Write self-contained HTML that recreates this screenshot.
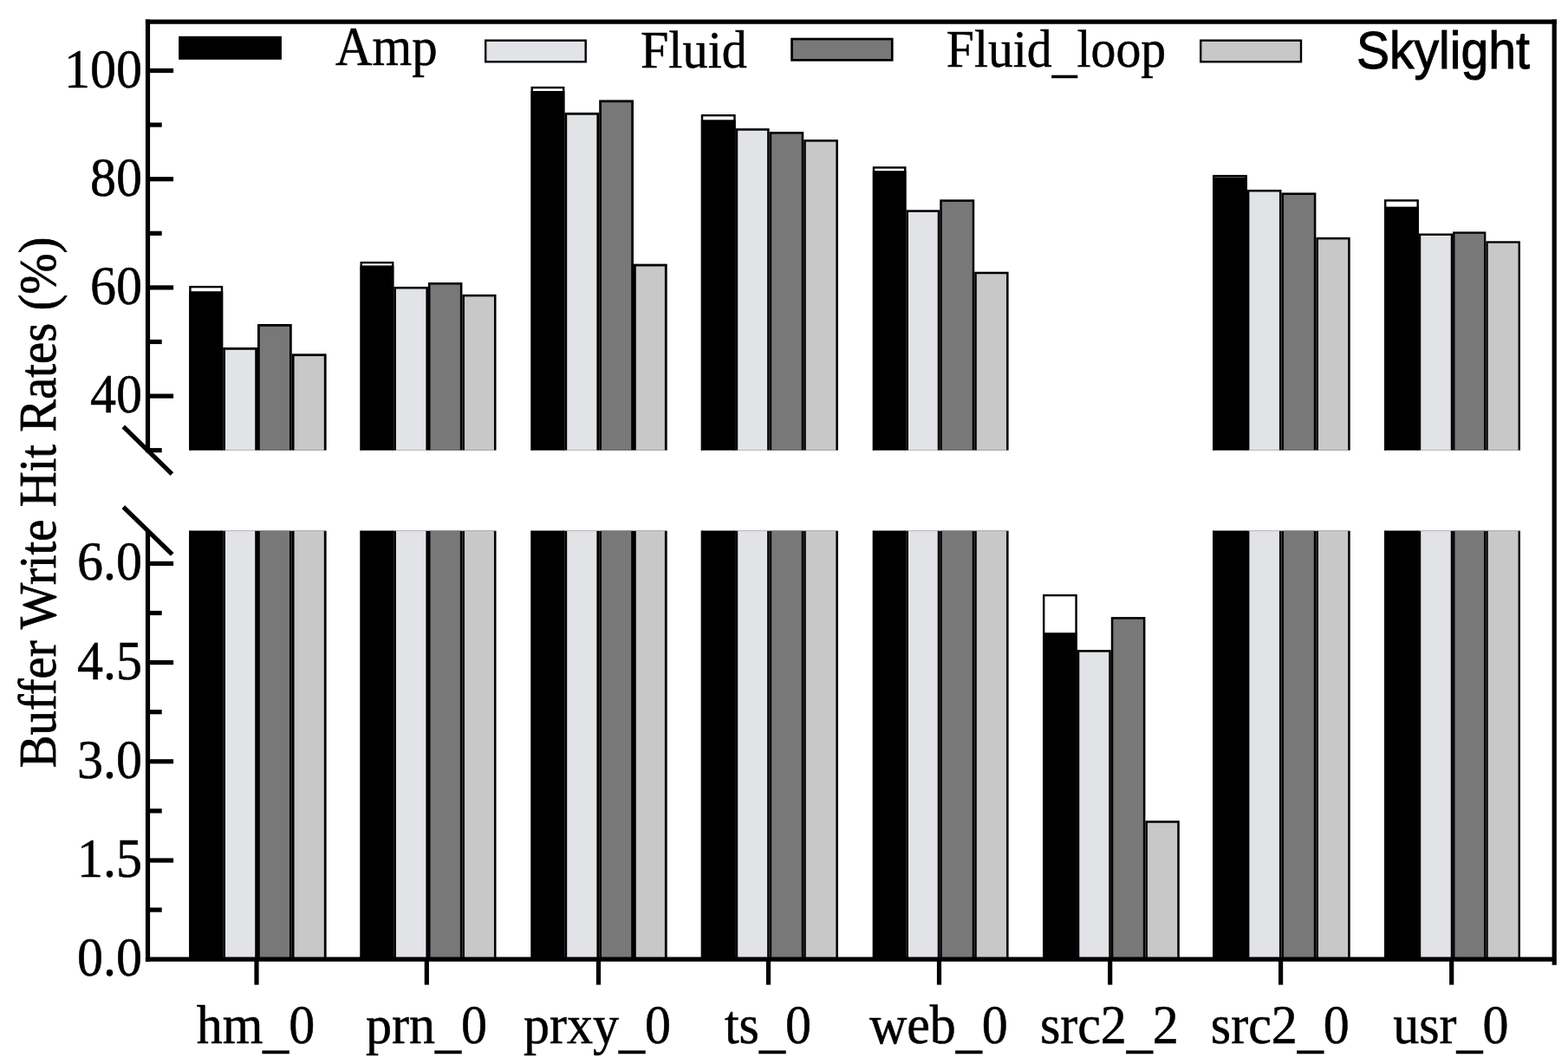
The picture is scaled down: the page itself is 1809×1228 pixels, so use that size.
<!DOCTYPE html>
<html><head><meta charset="utf-8"><title>Buffer Write Hit Rates</title>
<style>html,body{margin:0;padding:0;background:#fff;overflow:hidden;}svg{display:block;}</style></head>
<body>
<svg width="1809" height="1228" viewBox="0 0 1809 1228">
<rect width="1809" height="1228" fill="#fff"/>
<g>
<rect x="218.20" y="329.90" width="39.02" height="189.80" fill="#000"/>
<rect x="220.60" y="332.30" width="34.22" height="187.40" fill="#fff"/>
<rect x="218.20" y="612.60" width="39.02" height="494.60" fill="#000"/>
<rect x="220.60" y="612.60" width="34.22" height="494.60" fill="#fff"/>
<rect x="218.20" y="336.20" width="39.02" height="183.50" fill="#000"/>
<rect x="218.20" y="612.60" width="39.02" height="494.60" fill="#000"/>
<rect x="257.22" y="401.00" width="39.78" height="118.70" fill="#000"/>
<rect x="260.00" y="403.78" width="34.22" height="115.92" fill="#e2e3e7"/>
<rect x="257.22" y="612.60" width="39.78" height="494.60" fill="#000"/>
<rect x="260.00" y="612.60" width="34.22" height="494.60" fill="#e2e3e7"/>
<rect x="297.00" y="374.00" width="39.75" height="145.70" fill="#000"/>
<rect x="299.78" y="376.78" width="34.18" height="142.92" fill="#787878"/>
<rect x="297.00" y="612.60" width="39.75" height="494.60" fill="#000"/>
<rect x="299.78" y="612.60" width="34.18" height="494.60" fill="#787878"/>
<rect x="336.75" y="408.30" width="39.85" height="111.40" fill="#000"/>
<rect x="339.53" y="411.08" width="34.28" height="108.62" fill="#c8c8c8"/>
<rect x="336.75" y="612.60" width="39.85" height="494.60" fill="#000"/>
<rect x="339.53" y="612.60" width="34.28" height="494.60" fill="#c8c8c8"/>
<rect x="415.50" y="301.90" width="38.85" height="217.80" fill="#000"/>
<rect x="417.90" y="304.30" width="34.05" height="215.40" fill="#fff"/>
<rect x="415.50" y="612.60" width="38.85" height="494.60" fill="#000"/>
<rect x="417.90" y="612.60" width="34.05" height="494.60" fill="#fff"/>
<rect x="415.50" y="306.40" width="38.85" height="213.30" fill="#000"/>
<rect x="415.50" y="612.60" width="38.85" height="494.60" fill="#000"/>
<rect x="454.35" y="330.90" width="39.60" height="188.80" fill="#000"/>
<rect x="456.90" y="333.45" width="34.50" height="186.25" fill="#e2e3e7"/>
<rect x="454.35" y="612.60" width="39.60" height="494.60" fill="#000"/>
<rect x="456.90" y="612.60" width="34.50" height="494.60" fill="#e2e3e7"/>
<rect x="493.95" y="326.00" width="39.45" height="193.70" fill="#000"/>
<rect x="496.50" y="328.55" width="34.35" height="191.15" fill="#787878"/>
<rect x="493.95" y="612.60" width="39.45" height="494.60" fill="#000"/>
<rect x="496.50" y="612.60" width="34.35" height="494.60" fill="#787878"/>
<rect x="533.40" y="339.80" width="39.10" height="179.90" fill="#000"/>
<rect x="535.95" y="342.35" width="34.00" height="177.35" fill="#c8c8c8"/>
<rect x="533.40" y="612.60" width="39.10" height="494.60" fill="#000"/>
<rect x="535.95" y="612.60" width="34.00" height="494.60" fill="#c8c8c8"/>
<rect x="612.50" y="99.90" width="38.90" height="419.80" fill="#000"/>
<rect x="614.90" y="102.30" width="34.10" height="417.40" fill="#fff"/>
<rect x="612.50" y="612.60" width="38.90" height="494.60" fill="#000"/>
<rect x="614.90" y="612.60" width="34.10" height="494.60" fill="#fff"/>
<rect x="612.50" y="105.00" width="38.90" height="414.70" fill="#000"/>
<rect x="612.50" y="612.60" width="38.90" height="494.60" fill="#000"/>
<rect x="651.40" y="129.90" width="39.80" height="389.80" fill="#000"/>
<rect x="654.20" y="132.70" width="34.20" height="387.00" fill="#e2e3e7"/>
<rect x="651.40" y="612.60" width="39.80" height="494.60" fill="#000"/>
<rect x="654.20" y="612.60" width="34.20" height="494.60" fill="#e2e3e7"/>
<rect x="691.20" y="115.40" width="39.80" height="404.30" fill="#000"/>
<rect x="694.00" y="118.20" width="34.20" height="401.50" fill="#787878"/>
<rect x="691.20" y="612.60" width="39.80" height="494.60" fill="#000"/>
<rect x="694.00" y="612.60" width="34.20" height="494.60" fill="#787878"/>
<rect x="731.00" y="304.60" width="38.70" height="215.10" fill="#000"/>
<rect x="733.80" y="307.40" width="33.10" height="212.30" fill="#c8c8c8"/>
<rect x="731.00" y="612.60" width="38.70" height="494.60" fill="#000"/>
<rect x="733.80" y="612.60" width="33.10" height="494.60" fill="#c8c8c8"/>
<rect x="808.80" y="132.00" width="39.87" height="387.70" fill="#000"/>
<rect x="811.20" y="134.40" width="35.07" height="385.30" fill="#fff"/>
<rect x="808.80" y="612.60" width="39.87" height="494.60" fill="#000"/>
<rect x="811.20" y="612.60" width="35.07" height="494.60" fill="#fff"/>
<rect x="808.80" y="138.30" width="39.87" height="381.40" fill="#000"/>
<rect x="808.80" y="612.60" width="39.87" height="494.60" fill="#000"/>
<rect x="848.67" y="148.20" width="38.98" height="371.50" fill="#000"/>
<rect x="851.20" y="150.73" width="33.92" height="368.97" fill="#e2e3e7"/>
<rect x="848.67" y="612.60" width="38.98" height="494.60" fill="#000"/>
<rect x="851.20" y="612.60" width="33.92" height="494.60" fill="#e2e3e7"/>
<rect x="887.65" y="152.10" width="39.60" height="367.60" fill="#000"/>
<rect x="890.18" y="154.63" width="34.53" height="365.07" fill="#787878"/>
<rect x="887.65" y="612.60" width="39.60" height="494.60" fill="#000"/>
<rect x="890.18" y="612.60" width="34.53" height="494.60" fill="#787878"/>
<rect x="927.25" y="161.10" width="39.65" height="358.60" fill="#000"/>
<rect x="929.78" y="163.63" width="34.58" height="356.07" fill="#c8c8c8"/>
<rect x="927.25" y="612.60" width="39.65" height="494.60" fill="#000"/>
<rect x="929.78" y="612.60" width="34.58" height="494.60" fill="#c8c8c8"/>
<rect x="1006.80" y="192.20" width="38.67" height="327.50" fill="#000"/>
<rect x="1009.20" y="194.60" width="33.87" height="325.10" fill="#fff"/>
<rect x="1006.80" y="612.60" width="38.67" height="494.60" fill="#000"/>
<rect x="1009.20" y="612.60" width="33.87" height="494.60" fill="#fff"/>
<rect x="1006.80" y="197.10" width="38.67" height="322.60" fill="#000"/>
<rect x="1006.80" y="612.60" width="38.67" height="494.60" fill="#000"/>
<rect x="1045.47" y="242.30" width="38.78" height="277.40" fill="#000"/>
<rect x="1048.00" y="244.83" width="33.72" height="274.87" fill="#e2e3e7"/>
<rect x="1045.47" y="612.60" width="38.78" height="494.60" fill="#000"/>
<rect x="1048.00" y="612.60" width="33.72" height="494.60" fill="#e2e3e7"/>
<rect x="1084.25" y="230.30" width="40.00" height="289.40" fill="#000"/>
<rect x="1086.78" y="232.83" width="34.93" height="286.87" fill="#787878"/>
<rect x="1084.25" y="612.60" width="40.00" height="494.60" fill="#000"/>
<rect x="1086.78" y="612.60" width="34.93" height="494.60" fill="#787878"/>
<rect x="1124.25" y="313.70" width="39.35" height="206.00" fill="#000"/>
<rect x="1126.78" y="316.23" width="34.28" height="203.47" fill="#c8c8c8"/>
<rect x="1124.25" y="612.60" width="39.35" height="494.60" fill="#000"/>
<rect x="1126.78" y="612.60" width="34.28" height="494.60" fill="#c8c8c8"/>
<rect x="1203.00" y="685.90" width="39.77" height="421.30" fill="#000"/>
<rect x="1205.40" y="688.30" width="34.97" height="418.90" fill="#fff"/>
<rect x="1203.00" y="730.20" width="39.77" height="377.00" fill="#000"/>
<rect x="1242.77" y="750.10" width="39.03" height="357.10" fill="#000"/>
<rect x="1245.30" y="752.63" width="33.97" height="354.57" fill="#e2e3e7"/>
<rect x="1281.80" y="712.10" width="39.60" height="395.10" fill="#000"/>
<rect x="1284.33" y="714.63" width="34.53" height="392.57" fill="#787878"/>
<rect x="1321.40" y="947.20" width="39.40" height="160.00" fill="#000"/>
<rect x="1323.93" y="949.73" width="34.33" height="157.47" fill="#c8c8c8"/>
<rect x="1399.00" y="201.90" width="39.87" height="317.80" fill="#000"/>
<rect x="1401.40" y="204.30" width="35.07" height="315.40" fill="#fff"/>
<rect x="1399.00" y="612.60" width="39.87" height="494.60" fill="#000"/>
<rect x="1401.40" y="612.60" width="35.07" height="494.60" fill="#fff"/>
<rect x="1399.00" y="204.50" width="39.87" height="315.20" fill="#000"/>
<rect x="1399.00" y="612.60" width="39.87" height="494.60" fill="#000"/>
<rect x="1438.87" y="218.90" width="39.58" height="300.80" fill="#000"/>
<rect x="1441.40" y="221.43" width="34.52" height="298.27" fill="#e2e3e7"/>
<rect x="1438.87" y="612.60" width="39.58" height="494.60" fill="#000"/>
<rect x="1441.40" y="612.60" width="34.52" height="494.60" fill="#e2e3e7"/>
<rect x="1478.45" y="222.40" width="39.90" height="297.30" fill="#000"/>
<rect x="1480.98" y="224.93" width="34.83" height="294.77" fill="#787878"/>
<rect x="1478.45" y="612.60" width="39.90" height="494.60" fill="#000"/>
<rect x="1480.98" y="612.60" width="34.83" height="494.60" fill="#787878"/>
<rect x="1518.35" y="273.90" width="39.35" height="245.80" fill="#000"/>
<rect x="1520.88" y="276.43" width="34.28" height="243.27" fill="#c8c8c8"/>
<rect x="1518.35" y="612.60" width="39.35" height="494.60" fill="#000"/>
<rect x="1520.88" y="612.60" width="34.28" height="494.60" fill="#c8c8c8"/>
<rect x="1597.00" y="230.20" width="39.85" height="289.50" fill="#000"/>
<rect x="1599.40" y="232.60" width="35.05" height="287.10" fill="#fff"/>
<rect x="1597.00" y="612.60" width="39.85" height="494.60" fill="#000"/>
<rect x="1599.40" y="612.60" width="35.05" height="494.60" fill="#fff"/>
<rect x="1597.00" y="238.60" width="39.85" height="281.10" fill="#000"/>
<rect x="1597.00" y="612.60" width="39.85" height="494.60" fill="#000"/>
<rect x="1636.85" y="269.50" width="39.25" height="250.20" fill="#000"/>
<rect x="1639.20" y="271.85" width="34.55" height="247.85" fill="#e2e3e7"/>
<rect x="1636.85" y="612.60" width="39.25" height="494.60" fill="#000"/>
<rect x="1639.20" y="612.60" width="34.55" height="494.60" fill="#e2e3e7"/>
<rect x="1676.10" y="267.40" width="38.25" height="252.30" fill="#000"/>
<rect x="1678.45" y="269.75" width="33.55" height="249.95" fill="#787878"/>
<rect x="1676.10" y="612.60" width="38.25" height="494.60" fill="#000"/>
<rect x="1678.45" y="612.60" width="33.55" height="494.60" fill="#787878"/>
<rect x="1714.35" y="278.30" width="39.55" height="241.40" fill="#000"/>
<rect x="1716.70" y="280.65" width="34.85" height="239.05" fill="#c8c8c8"/>
<rect x="1714.35" y="612.60" width="39.55" height="494.60" fill="#000"/>
<rect x="1716.70" y="612.60" width="34.85" height="494.60" fill="#c8c8c8"/>
</g>
<g>
<line x1="167.90" y1="25.10" x2="1795.80" y2="25.10" stroke="#000" stroke-width="5.2"/>
<line x1="1793.20" y1="22.50" x2="1793.20" y2="1113.80" stroke="#000" stroke-width="5.2"/>
<line x1="167.90" y1="1107.20" x2="1793.20" y2="1107.20" stroke="#000" stroke-width="5.2"/>
<line x1="170.50" y1="22.50" x2="170.50" y2="522.30" stroke="#000" stroke-width="5.2"/>
<line x1="170.50" y1="613.00" x2="170.50" y2="1109.80" stroke="#000" stroke-width="5.2"/>
<line x1="170.50" y1="81.50" x2="200.10" y2="81.50" stroke="#000" stroke-width="5.2"/>
<line x1="170.50" y1="206.70" x2="200.10" y2="206.70" stroke="#000" stroke-width="5.2"/>
<line x1="170.50" y1="331.90" x2="200.10" y2="331.90" stroke="#000" stroke-width="5.2"/>
<line x1="170.50" y1="457.10" x2="200.10" y2="457.10" stroke="#000" stroke-width="5.2"/>
<line x1="170.50" y1="144.10" x2="186.70" y2="144.10" stroke="#000" stroke-width="5.2"/>
<line x1="170.50" y1="269.30" x2="186.70" y2="269.30" stroke="#000" stroke-width="5.2"/>
<line x1="170.50" y1="394.50" x2="186.70" y2="394.50" stroke="#000" stroke-width="5.2"/>
<line x1="170.50" y1="519.70" x2="186.70" y2="519.70" stroke="#000" stroke-width="5.2"/>
<line x1="170.50" y1="650.42" x2="200.10" y2="650.42" stroke="#000" stroke-width="5.2"/>
<line x1="170.50" y1="764.62" x2="200.10" y2="764.62" stroke="#000" stroke-width="5.2"/>
<line x1="170.50" y1="878.81" x2="200.10" y2="878.81" stroke="#000" stroke-width="5.2"/>
<line x1="170.50" y1="993.01" x2="200.10" y2="993.01" stroke="#000" stroke-width="5.2"/>
<line x1="170.50" y1="707.52" x2="186.70" y2="707.52" stroke="#000" stroke-width="5.2"/>
<line x1="170.50" y1="821.71" x2="186.70" y2="821.71" stroke="#000" stroke-width="5.2"/>
<line x1="170.50" y1="935.91" x2="186.70" y2="935.91" stroke="#000" stroke-width="5.2"/>
<line x1="170.50" y1="1050.10" x2="186.70" y2="1050.10" stroke="#000" stroke-width="5.2"/>
<line x1="142.30" y1="492.40" x2="198.40" y2="547.20" stroke="#000" stroke-width="5.2"/>
<line x1="142.30" y1="585.20" x2="198.70" y2="639.80" stroke="#000" stroke-width="5.2"/>
<line x1="296.00" y1="1107.20" x2="296.00" y2="1136.60" stroke="#000" stroke-width="5.2"/>
<line x1="492.30" y1="1107.20" x2="492.30" y2="1136.60" stroke="#000" stroke-width="5.2"/>
<line x1="690.50" y1="1107.20" x2="690.50" y2="1136.60" stroke="#000" stroke-width="5.2"/>
<line x1="886.50" y1="1107.20" x2="886.50" y2="1136.60" stroke="#000" stroke-width="5.2"/>
<line x1="1083.50" y1="1107.20" x2="1083.50" y2="1136.60" stroke="#000" stroke-width="5.2"/>
<line x1="1280.70" y1="1107.20" x2="1280.70" y2="1136.60" stroke="#000" stroke-width="5.2"/>
<line x1="1477.60" y1="1107.20" x2="1477.60" y2="1136.60" stroke="#000" stroke-width="5.2"/>
<line x1="1674.70" y1="1107.20" x2="1674.70" y2="1136.60" stroke="#000" stroke-width="5.2"/>
</g>
<g>
<rect x="206.1" y="41.8" width="118.8" height="27.0" fill="#000"/>
<rect x="559.00" y="45.50" width="117.90" height="27.00" fill="#000"/>
<rect x="561.40" y="47.90" width="113.10" height="22.20" fill="#e2e3e7"/>
<rect x="912.20" y="43.70" width="118.40" height="27.00" fill="#000"/>
<rect x="914.90" y="46.40" width="113.00" height="21.60" fill="#787878"/>
<rect x="1384.00" y="45.50" width="118.20" height="27.00" fill="#000"/>
<rect x="1386.40" y="47.90" width="113.40" height="22.20" fill="#c8c8c8"/>
</g>
<g fill="#000" stroke="#000" stroke-width="0.5">
<text transform="translate(387.12,74.90) scale(0.979,1.04)" text-anchor="start" style="font-family:'Liberation Serif','Times New Roman',serif;font-size:60px" >Amp</text>
<text transform="translate(739.00,78.00) scale(0.97,1.035)" text-anchor="start" style="font-family:'Liberation Serif','Times New Roman',serif;font-size:60px" >Fluid</text>
<text transform="translate(1091.80,76.90) scale(0.962,1.035)" text-anchor="start" style="font-family:'Liberation Serif','Times New Roman',serif;font-size:60px" >Fluid<tspan dy="5.3">_</tspan><tspan dy="-5.3">loop</tspan></text>
<text transform="translate(1564.90,78.80) scale(1.02,1.09)" text-anchor="start" style="font-family:'Liberation Sans',Arial,sans-serif;stroke-width:0.9;font-size:56px" >Skylight</text>
<text transform="translate(164.10,100.50) scale(1.0,1.07)" text-anchor="end" style="font-family:'Liberation Serif','Times New Roman',serif;font-size:60px" >100</text>
<text transform="translate(164.10,225.70) scale(1.0,1.07)" text-anchor="end" style="font-family:'Liberation Serif','Times New Roman',serif;font-size:60px" >80</text>
<text transform="translate(164.10,350.90) scale(1.0,1.07)" text-anchor="end" style="font-family:'Liberation Serif','Times New Roman',serif;font-size:60px" >60</text>
<text transform="translate(164.10,476.10) scale(1.0,1.07)" text-anchor="end" style="font-family:'Liberation Serif','Times New Roman',serif;font-size:60px" >40</text>
<text transform="translate(164.10,669.42) scale(1.0,1.07)" text-anchor="end" style="font-family:'Liberation Serif','Times New Roman',serif;font-size:60px" >6.0</text>
<text transform="translate(164.10,783.62) scale(1.0,1.07)" text-anchor="end" style="font-family:'Liberation Serif','Times New Roman',serif;font-size:60px" >4.5</text>
<text transform="translate(164.10,897.81) scale(1.0,1.07)" text-anchor="end" style="font-family:'Liberation Serif','Times New Roman',serif;font-size:60px" >3.0</text>
<text transform="translate(164.10,1012.01) scale(1.0,1.07)" text-anchor="end" style="font-family:'Liberation Serif','Times New Roman',serif;font-size:60px" >1.5</text>
<text transform="translate(164.10,1126.20) scale(1.0,1.07)" text-anchor="end" style="font-family:'Liberation Serif','Times New Roman',serif;font-size:60px" >0.0</text>
<text transform="translate(295.00,1204.00) scale(1.0,1.05)" text-anchor="middle" style="font-family:'Liberation Serif','Times New Roman',serif;font-size:60px" >hm<tspan dy="3.9">_</tspan><tspan dy="-3.9">0</tspan></text>
<text transform="translate(491.97,1204.00) scale(1.0,1.05)" text-anchor="middle" style="font-family:'Liberation Serif','Times New Roman',serif;font-size:60px" >prn<tspan dy="3.9">_</tspan><tspan dy="-3.9">0</tspan></text>
<text transform="translate(688.94,1204.00) scale(1.0,1.05)" text-anchor="middle" style="font-family:'Liberation Serif','Times New Roman',serif;font-size:60px" >prxy<tspan dy="3.9">_</tspan><tspan dy="-3.9">0</tspan></text>
<text transform="translate(885.91,1204.00) scale(1.0,1.05)" text-anchor="middle" style="font-family:'Liberation Serif','Times New Roman',serif;font-size:60px" >ts<tspan dy="3.9">_</tspan><tspan dy="-3.9">0</tspan></text>
<text transform="translate(1082.88,1204.00) scale(1.0,1.05)" text-anchor="middle" style="font-family:'Liberation Serif','Times New Roman',serif;font-size:60px" >web<tspan dy="3.9">_</tspan><tspan dy="-3.9">0</tspan></text>
<text transform="translate(1279.85,1204.00) scale(1.0,1.05)" text-anchor="middle" style="font-family:'Liberation Serif','Times New Roman',serif;font-size:60px" >src2<tspan dy="3.9">_</tspan><tspan dy="-3.9">2</tspan></text>
<text transform="translate(1476.82,1204.00) scale(1.0,1.05)" text-anchor="middle" style="font-family:'Liberation Serif','Times New Roman',serif;font-size:60px" >src2<tspan dy="3.9">_</tspan><tspan dy="-3.9">0</tspan></text>
<text transform="translate(1673.79,1204.00) scale(1.0,1.05)" text-anchor="middle" style="font-family:'Liberation Serif','Times New Roman',serif;font-size:60px" >usr<tspan dy="3.9">_</tspan><tspan dy="-3.9">0</tspan></text>
<text transform="translate(63.6,580) rotate(-90) scale(0.945,1.005)" text-anchor="middle" style="font-family:'Liberation Serif','Times New Roman',serif;font-size:60px;stroke-width:0.75">Buffer Write Hit Rates (%)</text>
</g>
</svg>
</body></html>
